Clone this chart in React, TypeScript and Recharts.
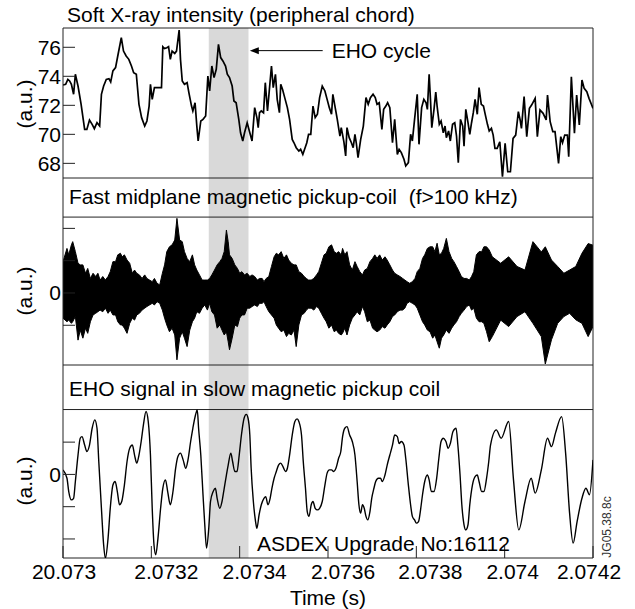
import React from 'react';
import {
  LineChart, ComposedChart, Line, Area, XAxis, YAxis, ReferenceArea, ReferenceLine,
} from 'recharts';

// time is kept in microseconds after 2.0730 s
const TIME_TICKS = [0, 200, 400, 600, 800, 1000, 1200];
const TIME_LABELS = ['20.073', '2.0732', '2.0734', '2.0736', '2.0738', '2.074', '2.0742'];
const SXR_TICKS = [68, 70, 72, 74, 76];
const FAST_TICKS = [-1, 0, 1, 2];
const SLOW_TICKS = [-2, -1, 0, 1];
const EHO_WINDOW = [330, 420];

// soft X-ray intensity [t, value]
const SXR: [number, number][] = [
  [0, 73.4], [6, 73.45], [11, 73.79], [15, 73.68], [19, 73.45], [24, 72.76], [28, 74.14], [34, 73.33],
  [41, 72.07], [49, 70.34], [54, 70.34], [60, 70.98], [66, 70.69], [71, 70.39], [77, 70.8], [83, 70.57],
  [87, 72.76], [92, 73.33], [98, 73.79], [104, 73.84], [108, 73.61], [113, 74.37], [119, 74.6], [124, 75.4],
  [132, 76.66], [137, 75.74], [143, 75.4], [149, 75.17], [155, 74.71], [160, 74.25], [166, 74.14], [172, 72.07],
  [178, 71.15], [185, 70.57], [190, 70.92], [195, 71.95], [198, 73.45], [202, 72.41], [207, 73.22], [211, 73.22],
  [223, 73.22], [226, 76.04], [230, 75.91], [235, 75.97], [239, 76.04], [243, 75.17], [247, 75.74], [253, 75.58],
  [257, 75.74], [263, 77.19], [266, 75.17], [270, 73.68], [275, 73.45], [281, 73.56], [285, 72.87], [291, 71.95],
  [294, 71.61], [299, 72.18], [303, 70.57], [306, 69.54], [312, 70.92], [317, 71.03], [323, 71.26], [328, 74.02],
  [332, 72.99], [337, 74.71], [342, 73.91], [347, 74.48], [352, 76.2], [357, 75.29], [362, 75.06], [368, 74.71],
  [372, 74.14], [377, 73.91], [383, 73.33], [387, 72.3], [392, 72.18], [398, 71.03], [402, 70.11], [407, 69.54],
  [411, 70.11], [417, 70.8], [423, 70.11], [428, 69.54], [434, 71.84], [439, 71.15], [442, 70.46], [445, 71.49],
  [449, 71.61], [454, 71.49], [458, 73.56], [463, 71.61], [467, 72.99], [472, 74.71], [476, 73.22], [481, 74.14],
  [485, 72.41], [490, 71.49], [493, 73.45], [497, 73.1], [502, 72.53], [508, 71.84], [513, 71.03], [519, 69.65],
  [523, 69.42], [528, 69.08], [534, 68.85], [538, 68.97], [543, 68.62], [547, 68.97], [552, 69.42], [556, 70],
  [561, 70], [566, 71.95], [571, 71.15], [576, 71.38], [581, 72.53], [587, 73.33], [593, 72.99], [598, 72.41],
  [603, 71.84], [608, 71.38], [611, 72.76], [617, 71.72], [621, 71.03], [627, 69.88], [630, 70.46], [636, 69.48],
  [640, 68.51], [643, 70.46], [648, 69.77], [653, 69.42], [657, 69.08], [661, 70], [664, 69.42], [668, 68.39],
  [674, 69.65], [680, 70.57], [686, 72.53], [691, 72.07], [696, 72.53], [702, 72.76], [707, 72.53], [711, 72.07],
  [716, 72.18], [722, 70.34], [726, 71.72], [731, 71.95], [735, 72.18], [740, 71.84], [746, 69.42], [751, 71.03],
  [757, 68.62], [761, 68.97], [766, 68.74], [772, 68.28], [776, 67.82], [782, 68.05], [787, 70], [791, 69.54],
  [796, 71.03], [802, 72.76], [806, 69.31], [812, 71.84], [817, 72.41], [822, 72.18], [825, 71.72], [829, 74.14],
  [832, 72.41], [835, 70.46], [840, 71.72], [844, 72.92], [847, 71.95], [852, 70.69], [856, 70.92], [861, 70.11],
  [865, 70.57], [868, 69.77], [873, 70.23], [877, 69.54], [882, 70.69], [887, 70.8], [891, 69.88], [895, 68.05],
  [900, 71.03], [905, 70.57], [908, 69.19], [912, 71.72], [917, 70.8], [921, 70], [925, 70.8], [929, 71.49],
  [933, 72.41], [938, 71.38], [942, 73.22], [947, 72.07], [952, 71.95], [956, 71.38], [961, 70.69], [965, 70.23],
  [970, 70.41], [974, 69.95], [978, 69.03], [983, 69.03], [989, 69.49], [995, 67.08], [1001, 69.38], [1007, 67.42],
  [1013, 67.42], [1019, 69.72], [1025, 69.95], [1031, 71.56], [1035, 70.99], [1038, 70.41], [1044, 72.6], [1050, 69.84],
  [1056, 71.79], [1061, 72.02], [1069, 72.48], [1074, 69.84], [1080, 71.68], [1087, 71.45], [1094, 70.99], [1097, 72.71],
  [1103, 70.87], [1109, 70.18], [1114, 70.18], [1122, 68], [1127, 69.84], [1131, 69.42], [1136, 69.95], [1142, 69.95],
  [1145, 68.46], [1151, 73.97], [1158, 70.07], [1163, 72.71], [1169, 70.64], [1175, 73.74], [1180, 73.17], [1186, 72.94],
  [1191, 72.48], [1197, 72.02], [1200, 71.79],
];

// fast pickup coil, envelope of the dense trace [t, upper, lower]
const FAST: [number, number, number][] = [
  [0, 0.97, -0.78], [9, 1.38, -0.89], [13, 1.18, -0.84], [19, 1.49, -0.94], [22, 1.59, -0.89], [28, 1.28, -0.73],
  [34, 0.92, -1.46], [39, 0.87, -1.15], [45, 0.87, -1.4], [51, 0.61, -1.09], [56, 0.76, -1.25], [62, 0.45, -0.89],
  [68, 0.61, -0.68], [74, 0.51, -0.63], [79, 0.61, -0.58], [84, 0.4, -0.53], [90, 0.51, -0.58], [96, 0.4, -0.47],
  [102, 0.51, -0.63], [107, 0.66, -0.53], [113, 0.97, -0.68], [119, 0.97, -0.68], [124, 1.18, -0.89], [130, 1.23, -0.99],
  [134, 1.12, -0.99], [139, 1.18, -1.09], [145, 1.02, -1.25], [151, 0.92, -0.94], [157, 0.61, -0.78], [162, 0.71, -0.84],
  [167, 0.61, -0.68], [173, 0.56, -0.63], [179, 0.45, -0.53], [185, 0.56, -0.47], [190, 0.45, -0.42], [196, 0.4, -0.37],
  [202, 0.35, -0.32], [207, 0.45, -0.37], [213, 0.3, -0.27], [219, 0.25, -0.32], [225, 0.61, -0.53], [230, 0.87, -0.78],
  [235, 1.28, -0.99], [241, 1.43, -1.2], [247, 1.49, -1.09], [253, 1.64, -1.3], [258, 2.31, -2.07], [264, 1.64, -1.4],
  [270, 1.59, -1.2], [275, 1.28, -1.4], [281, 1.07, -1.66], [287, 0.97, -1.15], [293, 1.18, -0.89], [298, 0.87, -0.78],
  [303, 0.71, -0.58], [309, 0.56, -0.63], [315, 0.4, -0.47], [321, 0.4, -0.37], [327, 0.4, -0.53], [332, 0.45, -0.32],
  [337, 0.56, -0.58], [343, 0.71, -0.68], [349, 0.87, -1.09], [355, 0.97, -0.99], [360, 1.07, -1.15], [365, 1.28, -1.3],
  [370, 1.95, -1.2], [374, 1.59, -1.51], [377, 1.18, -1.76], [383, 1.07, -1.4], [389, 0.87, -0.99], [395, 0.76, -1.04],
  [400, 0.61, -0.78], [405, 0.66, -0.68], [411, 0.56, -0.68], [417, 0.61, -0.47], [423, 0.51, -0.47], [428, 0.56, -0.42],
  [434, 0.51, -0.37], [440, 0.4, -0.42], [445, 0.45, -0.32], [451, 0.45, -0.32], [455, 0.35, -0.27], [460, 0.45, -0.42],
  [466, 0.51, -0.58], [472, 0.82, -0.68], [478, 1.12, -0.78], [483, 1.23, -0.99], [488, 1.18, -1.09], [494, 1.28, -1.2],
  [500, 1.07, -1.15], [506, 1.18, -1.35], [511, 1.02, -1.25], [517, 0.92, -1.3], [523, 0.87, -1.15], [528, 0.87, -1.66],
  [534, 0.66, -0.99], [540, 0.61, -0.68], [546, 0.51, -0.63], [551, 0.45, -0.53], [556, 0.4, -0.47], [562, 0.4, -0.47],
  [568, 0.45, -0.53], [574, 0.56, -0.42], [579, 0.66, -0.47], [585, 0.92, -0.63], [591, 1.18, -0.78], [596, 1.23, -0.89],
  [602, 1.43, -1.09], [608, 1.49, -0.99], [614, 1.28, -1.2], [619, 1.23, -1.15], [624, 1.28, -1.25], [630, 1.18, -1.3],
  [633, 1.38, -1.25], [638, 1.18, -1.09], [643, 1.28, -1.3], [649, 0.87, -0.99], [655, 0.71, -0.78], [661, 0.97, -0.68],
  [666, 0.82, -0.58], [672, 0.66, -0.68], [678, 0.56, -0.42], [683, 0.71, -0.58], [689, 0.76, -0.89], [695, 0.97, -0.84],
  [701, 1.07, -1.09], [706, 1.18, -1.15], [711, 1.07, -1.2], [717, 1.18, -1.15], [723, 1.02, -1.04], [729, 1.12, -1.09],
  [734, 1.02, -0.99], [740, 0.87, -0.89], [746, 0.71, -0.73], [751, 0.61, -0.68], [757, 0.56, -0.58], [763, 0.51, -0.53],
  [769, 0.45, -0.53], [774, 0.4, -0.47], [779, 0.35, -0.32], [785, 0.3, -0.27], [791, 0.35, -0.32], [797, 0.45, -0.37],
  [802, 0.66, -0.47], [808, 0.76, -0.68], [814, 1.07, -0.89], [819, 1.18, -0.99], [825, 1.38, -1.15], [831, 1.43, -1.2],
  [837, 1.43, -1.4], [842, 1.28, -1.3], [847, 1.54, -1.51], [852, 1.18, -1.71], [857, 1.23, -1.4], [862, 1.38, -1.3],
  [868, 1.69, -1.15], [874, 1.28, -1.25], [880, 1.07, -1.09], [885, 0.97, -0.99], [891, 0.82, -0.89], [897, 0.66, -0.73],
  [902, 0.51, -0.63], [908, 0.45, -0.53], [914, 0.45, -0.42], [920, 0.4, -0.37], [925, 0.51, -0.53], [930, 0.66, -0.47],
  [936, 1.18, -0.78], [942, 1.28, -0.89], [948, 1.28, -0.89], [953, 1.43, -0.94], [959, 1.43, -1.2], [965, 1.33, -1.51],
  [972, 1.12, -1.35], [991, 0.92, -0.84], [1009, 1.12, -1.04], [1028, 0.82, -0.73], [1046, 0.71, -0.58], [1064, 1.59, -0.94],
  [1083, 1.27, -1.35], [1092, 1.43, -2.2], [1106, 1.02, -1.45], [1120, 0.82, -0.94], [1134, 0.61, -0.73], [1147, 0.71, -0.63],
  [1161, 0.82, -0.83], [1175, 1.23, -0.94], [1189, 1.53, -1.35], [1200, 1.48, -1.04],
];

// slow pickup coil EHO signal [t, value]
const SLOW: [number, number][] = [
  [0, 0.14], [9, -0.12], [13, -0.53], [19, -0.79], [24, -0.74], [28, -0.22], [34, 0.6], [39, 1.12], [43, 1.17],
  [49, 0.91], [54, 0.71], [60, 0.91], [66, 1.43], [72, 1.69], [77, 1.43], [81, 0.4], [87, -1.05], [92, -2.18],
  [96, -2.6], [102, -1.98], [107, -1.05], [113, -0.33], [118, -0.22], [123, -0.53], [128, -0.94], [133, -0.84],
  [139, -0.33], [145, 0.4], [151, 0.81], [157, 0.91], [162, 0.6], [167, 0.35], [172, 0.6], [177, 1.02], [182, 1.53],
  [188, 1.95], [193, 1.64], [198, 0.6], [202, -1.05], [206, -2.18], [210, -2.49], [215, -1.98], [221, -1.05],
  [226, -0.43], [232, -0.17], [237, -0.53], [243, -0.94], [249, -0.53], [255, 0.19], [260, 0.55], [266, 0.66],
  [272, 0.45], [278, 0.19], [283, 0.45], [289, 1.02], [294, 1.43], [300, 1.84], [304, 2.0], [307, 1.43], [312, 0.6],
  [317, -0.63], [321, -1.56], [325, -2.28], [330, -1.67], [334, -0.84], [340, -0.53], [345, -0.43], [349, -0.74],
  [355, -1.05], [360, -0.84], [365, -0.43], [370, -0.02], [374, 0.29], [380, 0.66], [384, 0.4], [389, 0.09],
  [394, 0.09], [399, 0.6], [404, 1.22], [410, 1.74], [415, 1.86], [419, 1.74], [423, 1.22], [426, 0.19], [431, -0.84],
  [436, -1.46], [439, -1.67], [444, -1.25], [449, -0.94], [455, -0.74], [459, -0.69], [464, -0.94], [469, -0.74],
  [473, -0.43], [478, -0.12], [483, 0.09], [488, 0.29], [493, 0.35], [498, 0.24], [504, 0.09], [508, 0.19], [513, 0.6],
  [519, 1.22], [525, 1.64], [530, 1.72], [534, 1.64], [540, 1.22], [544, 0.4], [549, -0.43], [553, -1.15], [557, -1.3],
  [562, -0.94], [566, -0.84], [571, -1.05], [576, -1.1], [581, -1.05], [587, -0.84], [593, -0.33], [598, 0.04],
  [603, 0.14], [608, 0.14], [613, 0.09], [618, 0.19], [624, 0.5], [629, 0.71], [633, 1.17], [638, 1.43], [643, 1.48],
  [649, 1.22], [655, 1.02], [661, 0.6], [666, -0.22], [670, -0.94], [674, -1.2], [678, -0.94], [682, -1.05],
  [686, -1.3], [690, -1.41], [695, -1.15], [699, -0.74], [704, -0.43], [708, -0.22], [714, -0.12], [719, -0.12],
  [723, -0.22], [729, -0.02], [734, 0.29], [740, 0.6], [746, 0.91], [751, 1.22], [757, 1.17], [761, 0.96], [766, 1.02],
  [772, 0.91], [776, 0.5], [782, -0.33], [787, -0.94], [791, -1.3], [796, -1.41], [800, -1.51], [805, -1.46],
  [810, -1.05], [814, -0.63], [819, -0.22], [825, -0.02], [829, -0.17], [834, -0.53], [840, -0.53], [846, -0.12],
  [851, 0.5], [856, 1.02], [861, 1.12], [867, 1.02], [872, 0.81], [877, 0.96], [883, 1.33], [890, 1.43], [894, 0.91],
  [899, -0.02], [903, -0.94], [908, -1.56], [912, -1.72], [917, -1.56], [921, -0.94], [927, -0.33], [933, -0.07],
  [938, -0.02], [942, -0.22], [948, -0.53], [953, -0.53], [959, -0.12], [964, 0.4], [968, 0.91], [981, 1.38],
  [992, 1.12], [1009, 1.64], [1020, -0.17], [1032, -1.72], [1046, -0.84], [1060, -0.12], [1069, -0.58], [1083, 0.14],
  [1097, 1.12], [1106, 0.86], [1115, 1.28], [1129, 1.79], [1138, 0.66], [1147, -1.2], [1155, -2.13], [1164, -1.46],
  [1175, -0.74], [1184, -0.43], [1192, -0.63], [1200, 0.45],
];

const FONT = '"Liberation Sans", Arial, Helvetica, sans-serif';
const FRAME = '#222';
const BAND = '#d9d9d9';
const LABEL_SHIFT = [1, 15, 15, 15, 14, 8, -4];

const sxrData = SXR.map(([t, v]) => ({ t, v }));
const fastData = FAST.map(([t, hi, lo]) => ({ t, hi, lo }));
const slowData = SLOW.map(([t, v]) => ({ t, v }));

function YTick(props: any) {
  const { x, y, payload, all } = props;
  const show = all || payload.value === 0;
  return (
    <g>
      <line x1={x} y1={y} x2={x + 12} y2={y} stroke={FRAME} strokeWidth={1} />
      {show && (
        <text x={x - 2} y={y} textAnchor="end" dominantBaseline="central" fontSize={21} fill="#000">
          {payload.value}
        </text>
      )}
    </g>
  );
}

function XTick(props: any) {
  const { x, y, payload } = props;
  const i = TIME_TICKS.indexOf(payload.value);
  return (
    <g>
      <line x1={x} y1={y} x2={x} y2={y - 12} stroke={FRAME} strokeWidth={1} />
      <text x={x + LABEL_SHIFT[i]} y={y + 13} textAnchor="middle" dominantBaseline="central" fontSize={21} fill="#000">
        {TIME_LABELS[i]}
      </text>
    </g>
  );
}

function Arrow(props: any) {
  const { x1, y1, x2, y2 } = props;
  return (
    <g>
      <line x1={x1} y1={y1} x2={x2 + 6} y2={y2} stroke="#000" strokeWidth={1} />
      <polygon points={`${x2},${y2} ${x2 + 9},${y2 - 3.5} ${x2 + 9},${y2 + 3.5}`} fill="#000" />
      <text x={x1 + 9} y={y1} dominantBaseline="central" fontSize={21} fill="#000">EHO cycle</text>
    </g>
  );
}

const margin = { top: 0, right: 42, bottom: 0, left: 0 };
const abs = (top: number): React.CSSProperties => ({ position: 'absolute', left: 0, top });

function AuLabel({ cy }: { cy: number }) {
  return (
    <div style={{
      position: 'absolute', left: 24, top: cy, fontSize: 21, lineHeight: '21px',
      transform: 'translate(-50%, -50%) rotate(-90deg)', whiteSpace: 'nowrap',
    }}>(a.u.)</div>
  );
}

export default function App() {
  return (
    <div style={{ position: 'absolute', left: 0, top: 0, width: 635, height: 609, background: '#fff', fontFamily: FONT, color: '#000' }}>
      {/* soft X-ray */}
      <div style={abs(0)}>
        <LineChart width={635} height={178} data={sxrData} margin={{ ...margin, top: 28 }}>
          <XAxis dataKey="t" type="number" domain={[0, 1200]} hide allowDataOverflow />
          <YAxis domain={[66.99, 77.33]} ticks={SXR_TICKS} interval={0} width={63} allowDataOverflow
            axisLine={{ stroke: FRAME }} tickLine={false} tickSize={0} tickMargin={0}
            tick={(p: any) => <YTick {...p} all />} />
          <ReferenceArea x1={EHO_WINDOW[0]} x2={EHO_WINDOW[1]} fill={BAND} fillOpacity={1} stroke="none" />
          <ReferenceLine y={77.33} stroke={FRAME} />
          <ReferenceLine y={66.99} stroke={FRAME} />
          <ReferenceLine x={1200} stroke={FRAME} />
          <ReferenceLine segment={[{ x: 588, y: 75.77 }, { x: 423, y: 75.77 }]} shape={(p: any) => <Arrow {...p} />} />
          <Line dataKey="v" type="linear" stroke="#000" strokeWidth={1.7} dot={false} isAnimationActive={false} />
        </LineChart>
      </div>

      {/* fast magnetic pickup coil */}
      <div style={abs(178)}>
        <ComposedChart width={635} height={187} data={fastData} margin={margin}>
          <XAxis dataKey="t" type="number" domain={[0, 1200]} hide allowDataOverflow />
          <YAxis domain={[-2.23, 3.56]} ticks={FAST_TICKS} interval={0} width={63} allowDataOverflow
            axisLine={{ stroke: FRAME }} tickLine={false} tickSize={0} tickMargin={0}
            tick={(p: any) => <YTick {...p} />} />
          <ReferenceArea x1={EHO_WINDOW[0]} x2={EHO_WINDOW[1]} fill={BAND} fillOpacity={1} stroke="none" />
          <ReferenceLine y={3.56} stroke={FRAME} />
          <ReferenceLine y={2.35} stroke={FRAME} />
          <ReferenceLine y={-2.23} stroke={FRAME} />
          <ReferenceLine x={1200} stroke={FRAME} />
          <Area dataKey={(d: any) => [d.lo, d.hi]} type="linear" stroke="#000" strokeWidth={1}
            fill="#000" fillOpacity={1} dot={false} activeDot={false} isAnimationActive={false} />
        </ComposedChart>
      </div>

      {/* slow pickup coil */}
      <div style={abs(365)}>
        <LineChart width={635} height={244} data={slowData} margin={margin}>
          <XAxis dataKey="t" type="number" domain={[0, 1200]} ticks={TIME_TICKS} interval={0} height={51}
            allowDataOverflow axisLine={false} tickLine={false} tickSize={0} tickMargin={0}
            tick={(p: any) => <XTick {...p} />}
            label={{ value: 'Time (s)', position: 'insideBottom', offset: 4, fontSize: 21, fill: '#000' }} />
          <YAxis domain={[-2.59, 3.39]} ticks={SLOW_TICKS} interval={0} width={63} allowDataOverflow
            axisLine={{ stroke: FRAME }} tickLine={false} tickSize={0} tickMargin={0}
            tick={(p: any) => <YTick {...p} />} />
          <ReferenceArea x1={EHO_WINDOW[0]} x2={EHO_WINDOW[1]} fill={BAND} fillOpacity={1} stroke="none" />
          <ReferenceLine y={3.39} stroke={FRAME} />
          <ReferenceLine y={2.01} stroke={FRAME} />
          <ReferenceLine y={-2.59} stroke={FRAME} />
          <ReferenceLine x={1200} stroke={FRAME} />
          <Line dataKey="v" type="monotone" stroke="#000" strokeWidth={1.4} dot={false} isAnimationActive={false} />
        </LineChart>
      </div>

      <div style={{ position: 'absolute', left: 67, top: 4, fontSize: 21, lineHeight: '21px', whiteSpace: 'pre' }}>
        Soft X-ray intensity (peripheral chord)
      </div>
      <div style={{ position: 'absolute', left: 69, top: 186, fontSize: 21, lineHeight: '21px', whiteSpace: 'pre' }}>
        {'Fast midplane magnetic pickup-coil  (f>100 kHz)'}
      </div>
      <div style={{ position: 'absolute', left: 69, top: 378, fontSize: 21, lineHeight: '21px', whiteSpace: 'pre' }}>
        EHO signal in slow magnetic pickup coil
      </div>
      <div style={{ position: 'absolute', left: 257, top: 533, fontSize: 21, lineHeight: '21px', whiteSpace: 'pre' }}>
        ASDEX Upgrade No:16112
      </div>
      <AuLabel cy={104} />
      <AuLabel cy={291} />
      <AuLabel cy={481} />
      <div style={{
        position: 'absolute', left: 607, top: 527, fontSize: 12, lineHeight: '12px', color: '#333',
        transform: 'translate(-50%, -50%) rotate(-90deg)', whiteSpace: 'nowrap',
      }}>JG05.38.8c</div>
    </div>
  );
}
